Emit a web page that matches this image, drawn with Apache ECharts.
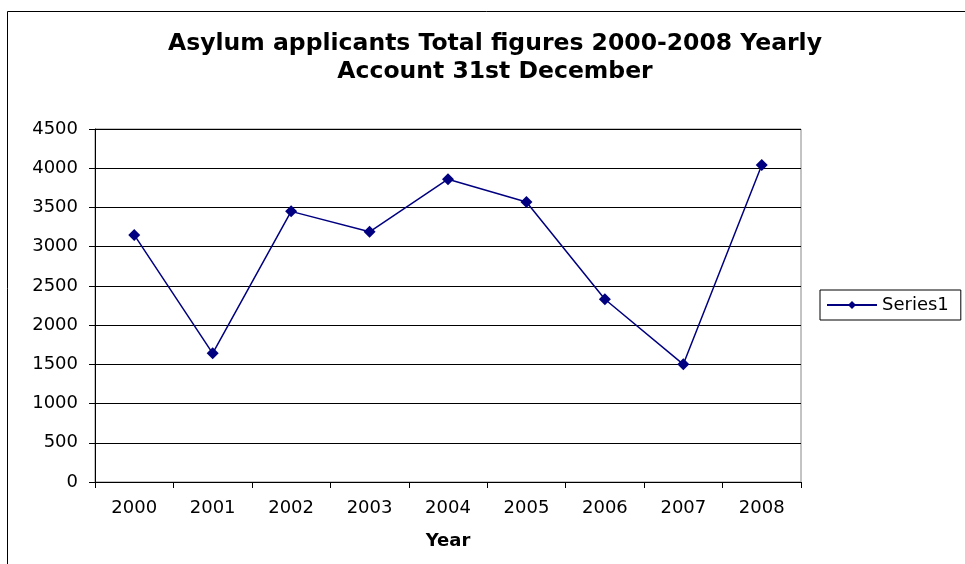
<!DOCTYPE html>
<html>
<head>
<meta charset="utf-8">
<script src="https://cdn.jsdelivr.net/npm/echarts@6/dist/echarts.min.js"></script>
<style>html,body{margin:0;padding:0;background:#fff}#c{width:965px;height:564px}</style>
</head>
<body>
<div id="c"></div>
<script>
const years = ['2000','2001','2002','2003','2004','2005','2006','2007','2008'];
const series1 = [3150, 1640, 3450, 3190, 3860, 3570, 2330, 1500, 4040];
const titleLines = ['Asylum applicants Total figures 2000-2008 Yearly', 'Account 31st December'];
const seriesName = 'Series1';
const xAxisName = 'Year';

const chart = echarts.init(document.getElementById('c'));
const font = 'DejaVu Sans, Liberation Sans, Arial, sans-serif';
chart.setOption({
  animation: false,
  backgroundColor: '#fff',
  graphic: [{
    type: 'rect', left: 5, top: 9,
    shape: { width: 1000, height: 600 },
    style: { fill: 'none', stroke: '#000', lineWidth: 1 }
  }],
  title: {
    text: titleLines.join('\n'),
    left: 490, top: 25, textAlign: 'center',
    textStyle: { fontFamily: font, fontSize: 23.5, fontWeight: 'bold', color: '#000', lineHeight: 28 }
  },
  legend: {
    data: [seriesName],
    left: 820, top: 290,
    orient: 'vertical',
    borderColor: '#000', borderWidth: 1, padding: [6, 12, 6, 6],
    itemWidth: 50, itemHeight: 10, itemGap: 4,
    textStyle: { fontFamily: font, fontSize: 18, color: '#000' }
  },
  grid: { left: 95, right: 164, top: 129, bottom: 82, show: true, borderColor: '#888', borderWidth: 1 },
  xAxis: {
    type: 'category', data: years, boundaryGap: true,
    name: xAxisName, nameLocation: 'middle', nameGap: 50,
    nameTextStyle: { fontFamily: font, fontSize: 18, fontWeight: 'bold', color: '#000' },
    axisLine: { lineStyle: { color: '#000', width: 1 } },
    axisTick: { show: true, length: 6, lineStyle: { color: '#000' } },
    axisLabel: { fontFamily: font, fontSize: 18, color: '#000', margin: 17 }
  },
  yAxis: {
    type: 'value', min: 0, max: 4500, interval: 500,
    axisLine: { show: true, lineStyle: { color: '#000', width: 1 } },
    axisTick: { show: true, length: 6, lineStyle: { color: '#000' } },
    axisLabel: { fontFamily: font, fontSize: 18, color: '#000', margin: 17, formatter: v => String(v) },
    splitLine: { show: true, lineStyle: { color: '#000', width: 1 } }
  },
  series: [{
    name: seriesName, type: 'line', data: series1,
    symbol: 'diamond', symbolSize: 12, showAllSymbol: true,
    lineStyle: { color: '#000080', width: 1.5 },
    itemStyle: { color: '#000080' }
  }]
});
</script>
</body>
</html>
